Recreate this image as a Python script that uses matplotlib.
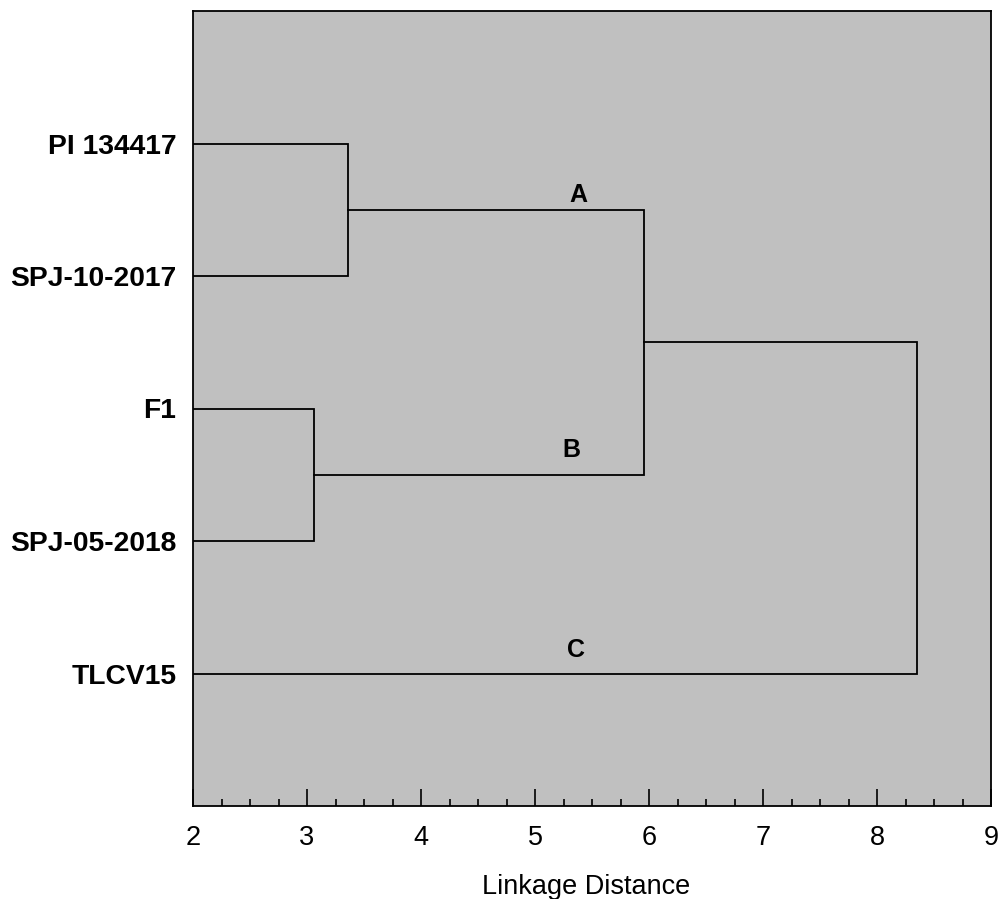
import matplotlib
matplotlib.use("Agg")
import matplotlib.pyplot as plt
from matplotlib.ticker import MultipleLocator

plt.rcParams['font.family'] = ['Liberation Sans', 'DejaVu Sans']

leaves = ["PI 134417", "SPJ-10-2017", "F1", "SPJ-05-2018", "TLCV15"]
# merges: linkage distances
merge_A = 3.36   # PI 134417 + SPJ-10-2017
merge_B = 3.06   # F1 + SPJ-05-2018
merge_AB = 5.96  # A + B
merge_root = 8.35  # (A,B) + TLCV15
leaf_dist = 2.0

cluster_labels = ["A", "B", "C"]
cluster_label_x = [5.38, 5.32, 5.36]
cluster_label_y = [1.39, 3.31, 4.82]

fig = plt.figure(figsize=(9.98, 8.99), dpi=100)
ax = fig.add_axes([193/998, 1-806/899, (991-193)/998, (806-11)/899])
ax.set_facecolor('#c0c0c0')

ypos = {name: i + 1 for i, name in enumerate(leaves)}
lw = 1.3
def bracket(y1, x1, y2, x2, xm):
    ax.plot([x1, xm, xm, x2], [y1, y1, y2, y2], color='black', lw=lw, solid_joinstyle='miter')

yA = (ypos[leaves[0]] + ypos[leaves[1]]) / 2
yB = (ypos[leaves[2]] + ypos[leaves[3]]) / 2
yAB = (yA + yB) / 2
bracket(ypos[leaves[0]], leaf_dist, ypos[leaves[1]], leaf_dist, merge_A)
bracket(ypos[leaves[2]], leaf_dist, ypos[leaves[3]], leaf_dist, merge_B)
bracket(yA, merge_A, yB, merge_B, merge_AB)
bracket(yAB, merge_AB, ypos[leaves[4]], leaf_dist, merge_root)

for t, x, y in zip(cluster_labels, cluster_label_x, cluster_label_y):
    ax.text(x, y, t, fontsize=18, fontweight='bold', ha='center', va='center')

ax.set_xlim(2, 9)
ax.set_ylim(6, 0)
ax.set_yticks([ypos[n] for n in leaves])
ax.set_yticklabels(leaves, fontsize=20.3, fontweight='bold')
ax.tick_params(axis='y', length=0, pad=12)
ax.xaxis.set_major_locator(MultipleLocator(1))
ax.xaxis.set_minor_locator(MultipleLocator(0.25))
ax.tick_params(axis='x', which='major', direction='in', length=12, width=1.2, labelsize=19.5, pad=14)
ax.tick_params(axis='x', which='minor', direction='in', length=5, width=1.2)
ax.set_xlabel("Linkage Distance", fontsize=19.5, labelpad=16)
ax.xaxis.label.set_x((586.5 - 193) / 798)
for s in ax.spines.values():
    s.set_linewidth(1.3)

fig.savefig("out.png", dpi=100)
